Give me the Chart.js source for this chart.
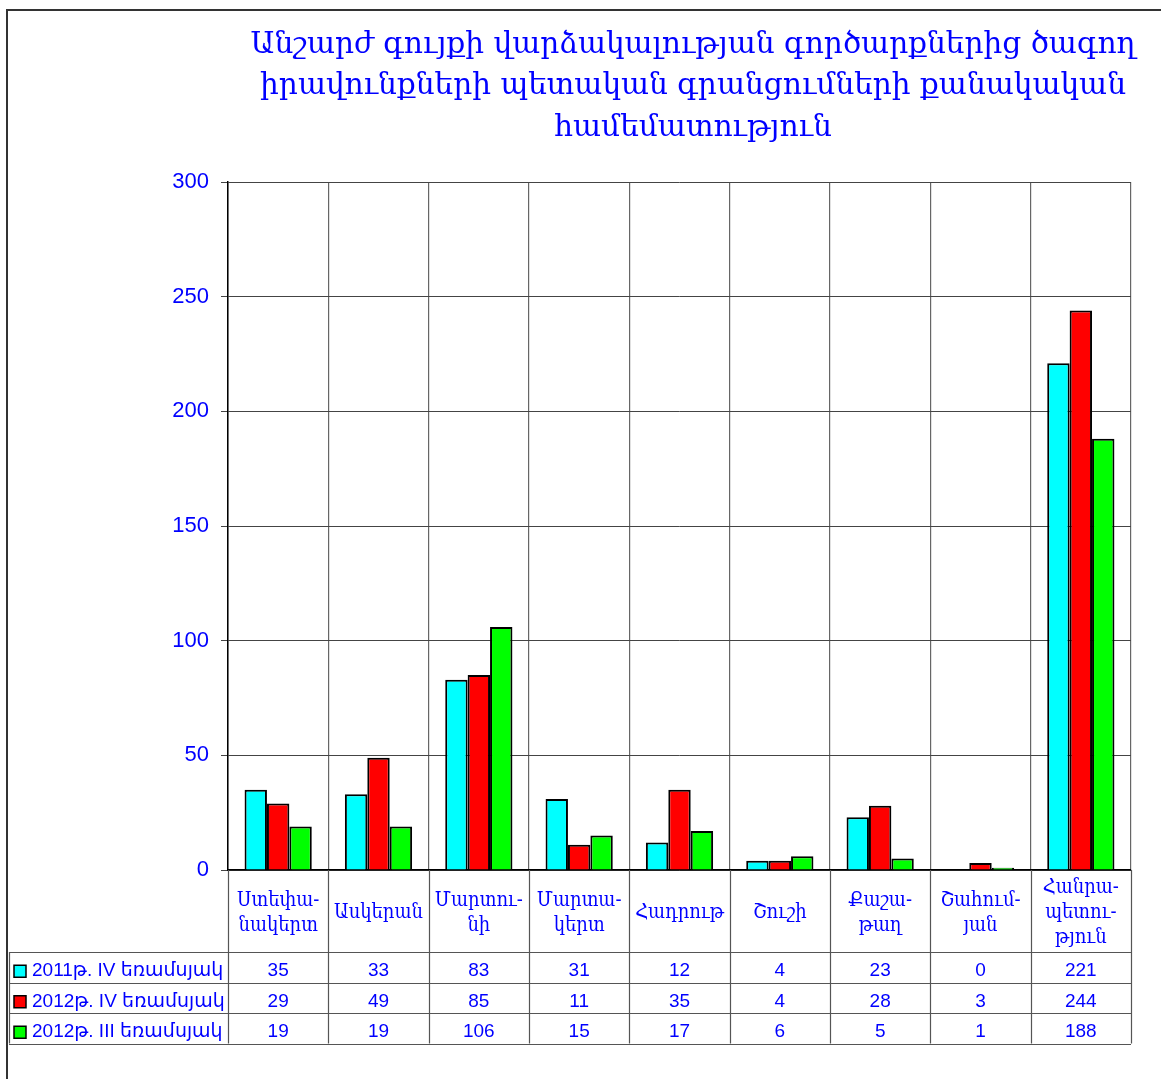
<!DOCTYPE html>
<html>
<head>
<meta charset="utf-8">
<script src="https://cdn.jsdelivr.net/npm/chart.js@4.4.1/dist/chart.umd.min.js"></script>
<style>
  html, body { margin: 0; padding: 0; background: #fff; }
  #wrap { width: 1161px; height: 1079px; }
</style>
</head>
<body>
<div id="wrap"><canvas id="chart" width="1161" height="1079"></canvas></div>
<script>
const titleLines = [
  'Անշարժ գույքի վարձակալության գործարքներից ծագող',
  'իրավունքների պետական գրանցումների քանակական',
  'համեմատություն'
];
const categories = [
  ['Ստեփա-', 'նակերտ'],
  ['Ասկերան'],
  ['Մարտու-', 'նի'],
  ['Մարտա-', 'կերտ'],
  ['Հադրութ'],
  ['Շուշի'],
  ['Քաշա-', 'թաղ'],
  ['Շահում-', 'յան'],
  ['Հանրա-', 'պետու-', 'թյուն']
];
const seriesNames = ['2011թ. IV եռամսյակ', '2012թ. IV եռամսյակ', '2012թ. III եռամսյակ'];
const q4_2011 = [35, 33, 83, 31, 12, 4, 23, 0, 221];
const q4_2012 = [29, 49, 85, 11, 35, 4, 28, 3, 244];
const q3_2012 = [19, 19, 106, 15, 17, 6, 5, 1, 188];
const seriesColors = ['#00ffff', '#ff0000', '#00ff00'];
const yMin = 0, yMax = 300, yStep = 50;

const BLUE = '#0000ff';
const SANS = "'Liberation Sans', Arial, 'DejaVu Sans', sans-serif";
const SERIF = "'DejaVu Serif', serif";
const SERIF_C = "'DejaVu Serif Condensed', 'DejaVu Serif', serif";

// frame, title, category labels and the data table under the axis
const tablePlugin = {
  id: 'dataTable',
  beforeDraw(chart) {
    const ctx = chart.ctx;
    ctx.save();
    ctx.strokeStyle = '#333';
    ctx.lineWidth = 2;
    ctx.beginPath();
    ctx.moveTo(7, chart.height);
    ctx.lineTo(7, 10);
    ctx.lineTo(chart.width, 10);
    ctx.stroke();
    ctx.restore();
  },
  afterDraw(chart) {
    const { ctx, chartArea: a, scales: { x } } = chart;
    const n = categories.length;
    const colW = a.width / n;
    const labelTop = a.bottom;
    const tableTop = x.bottom;
    const rowH = 30.5;
    const tableBottom = tableTop + rowH * seriesNames.length;
    const tableLeft = 9;

    ctx.save();
    // title
    ctx.fillStyle = BLUE;
    ctx.font = `29.6px ${SERIF}`;
    ctx.textAlign = 'center';
    ctx.textBaseline = 'middle';
    titleLines.forEach((t, i) => ctx.fillText(t, 693, 45 + i * 41.5));

    // category names, centred in the row under the axis
    ctx.font = `20px ${SERIF_C}`;
    const lh = 25;
    const midY = (labelTop + tableTop) / 2 + 2;
    categories.forEach((lines, i) => {
      const cx = a.left + (i + 0.5) * colW;
      const y0 = midY - (lines.length - 1) * lh / 2;
      lines.forEach((s, k) => ctx.fillText(s, cx, y0 + k * lh));
    });

    // vertical lines through label row and table
    ctx.strokeStyle = '#555';
    ctx.lineWidth = 1.2;
    ctx.beginPath();
    for (let i = 0; i <= n; i++) {
      const px = Math.round(a.left + i * colW) + 0.5;
      ctx.moveTo(px, labelTop);
      ctx.lineTo(px, tableBottom);
    }
    ctx.moveTo(tableLeft + 0.5, tableTop);
    ctx.lineTo(tableLeft + 0.5, tableBottom);
    for (let r = 0; r <= seriesNames.length; r++) {
      const py = Math.round(tableTop + r * rowH) + 0.5;
      ctx.moveTo(tableLeft, py);
      ctx.lineTo(a.right, py);
    }
    ctx.stroke();

    // legend keys + values
    const rows = [q4_2011, q4_2012, q3_2012];
    rows.forEach((vals, r) => {
      const cy = tableTop + r * rowH + rowH / 2 + 4;
      ctx.fillStyle = seriesColors[r];
      ctx.fillRect(14, cy - 6, 12, 12);
      ctx.strokeStyle = '#000';
      ctx.lineWidth = 1.5;
      ctx.strokeRect(14, cy - 6, 12, 12);
      ctx.fillStyle = BLUE;
      ctx.textAlign = 'left';
      ctx.font = `19px ${SANS}`;
      ctx.fillText(seriesNames[r], 32, cy);
      ctx.textAlign = 'center';
      vals.forEach((v, i) => {
        ctx.fillText(String(v), a.left + (i + 0.5) * colW, cy);
      });
    });
    ctx.restore();
  }
};

const datasets = [q4_2011, q4_2012, q3_2012].map((d, i) => ({
  label: seriesNames[i],
  data: d,
  backgroundColor: seriesColors[i],
  borderColor: '#000',
  borderWidth: 2,
  borderSkipped: 'bottom',
  barPercentage: 1,
  categoryPercentage: 0.67
}));

new Chart(document.getElementById('chart'), {
  type: 'bar',
  data: { labels: categories, datasets },
  options: {
    responsive: false,
    animation: false,
    layout: { padding: { top: 182, left: 0, right: 30, bottom: 127 } },
    plugins: {
      legend: { display: false },
      tooltip: { enabled: false },
      title: { display: false }
    },
    scales: {
      x: {
        grid: { color: '#666', lineWidth: 1.2, offset: true, drawTicks: false },
        border: { color: '#000', width: 1.5 },
        ticks: { display: false },
        afterFit(scale) { scale.height = 82; }
      },
      y: {
        min: yMin,
        max: yMax,
        grid: { color: '#444', lineWidth: 1, tickLength: 7, drawTicks: true },
        border: { color: '#000', width: 1.5 },
        ticks: {
          stepSize: yStep,
          color: BLUE,
          font: { family: SANS, size: 22 },
          padding: 12
        },
        afterFit(scale) { scale.width = 228; }
      }
    }
  },
  plugins: [tablePlugin]
});
</script>
</body>
</html>
